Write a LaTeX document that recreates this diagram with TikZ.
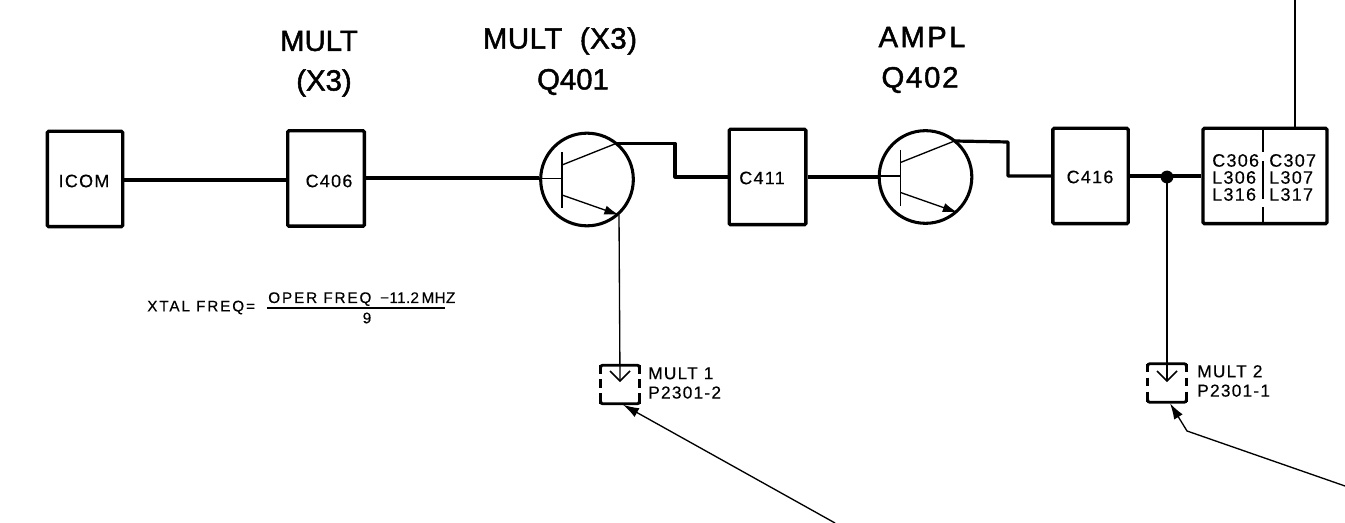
\documentclass[tikz,border=0pt]{standalone}
\usepackage{fontspec}
\setmainfont{Liberation Sans}
\newfontfamily\titlefont[FakeBold=1.6]{Liberation Sans}
\newfontfamily\labelfont[LetterSpace=7,FakeBold=0.3]{Liberation Sans}
\newfontfamily\wideone[LetterSpace=12,FakeBold=0.3]{Liberation Sans}
\newfontfamily\tightone[LetterSpace=2,FakeBold=0.3]{Liberation Sans}
\usetikzlibrary{arrows.meta,calc}
\tikzset{
  x=0.75pt,y=-0.75pt,
  wire/.style={line width=2.4pt,line join=round},
  thinwire/.style={line width=1pt},
  blockbox/.style={draw,line width=2.5pt,rounded corners=1pt,inner sep=0pt,minimum height=71.5pt},
  blocktext/.style={font=\labelfont\fontsize{13.5}{14}\selectfont,inner sep=0pt},
  transcircle/.style={draw,circle,line width=2.3pt,minimum size=69.5pt,inner sep=0pt},
  title/.style={font=\titlefont\fontsize{22}{24}\selectfont,inner sep=0pt},
  coil/.style={font=\labelfont\fontsize{13.5}{12.75}\selectfont,inner sep=0pt,align=left,anchor=west},
  note/.style={font=\labelfont\fontsize{13}{14.5}\selectfont,inner sep=0pt,align=left,anchor=west},
  freq/.style={font=\wideone\fontsize{11.5}{13}\selectfont,inner sep=0pt},
  pointer/.style={line width=1pt,-{Latex[length=12pt,width=7.5pt]}},
  jackbox/.style={minimum width=28.5pt,minimum height=28.5pt,inner sep=0pt},
  jackside/.style={line width=2.1pt,dash pattern=on 6.5pt off 4pt on 6.5pt off 4pt on 8pt},
  jacktop/.style={line width=2.1pt},
  chevron/.style={line width=1.1pt},
}
\newcommand{\transistor}[2]{%
  \coordinate (#1b) at ($(#2)+(-25,-1)$);
  \draw[line width=1.2pt] ($(#2)+(-25,-27)$) -- ($(#2)+(-25,29)$);
  \draw[line width=1pt] ($(#2)+(-25,-14.5)$) -- ($(#2)+(29,-36)$) coordinate (#1c);
  \draw[line width=1pt,-{Latex[length=11pt,width=7pt]}] ($(#2)+(-25,15.5)$) -- ($(#2)+(32,35.5)$) coordinate (#1e);
  \draw[line width=1pt] (#1b) -- (#2.west |- #1b);
}
\newcommand{\jackdraw}[1]{%
  \draw[jacktop,rounded corners=1.5pt] ($(#1.north west)+(0,3)$) -- (#1.north west) -- (#1.north east) -- ($(#1.north east)+(0,3)$);
  \draw[jacktop,rounded corners=1.5pt] ($(#1.south west)+(0,-3)$) -- (#1.south west) -- (#1.south east) -- ($(#1.south east)+(0,-3)$);
  \draw[jackside] (#1.north west) -- (#1.south west);
  \draw[jackside] (#1.north east) -- (#1.south east);
}
\begin{document}
\begin{tikzpicture}
\useasboundingbox (0,0) rectangle (1345,523);
\node[title] (t1) at (319,41) {MULT};
\node[title] (t2) at (324,83) {(X3)};
\node[title] (t3) at (560,41) {\addfontfeature{LetterSpace=2}MULT\ \ (X3)};
\node[title] (t4) at (573,82) {Q401};
\node[title] (t5) at (922,37) {\addfontfeature{LetterSpace=8}AMPL};
\node[title] (t6) at (920,80) {\addfontfeature{LetterSpace=6}Q402};
\node[blockbox,minimum width=56.5pt] (icom) at (85,179) {};
\node[blocktext] (icomt) at (84,181) {ICOM};
\node[blockbox,minimum width=57.5pt] (c406) at (326,178.5) {};
\node[blocktext] (c406t) at (329,181) {C406};
\node[transcircle] (q1) at (587,179.5) {};
\node[blockbox,minimum width=57.5pt] (c411) at (767.5,177) {};
\node[blocktext] (c411t) at (762,178) {C411};
\node[transcircle] (q2) at (925.5,177) {};
\node[blockbox,minimum width=56.5pt] (c416) at (1090.5,176) {};
\node[blocktext] (c416t) at (1090,177) {C416};
\node[draw,line width=2.5pt,rounded corners=1pt,minimum width=93pt,minimum height=71.5pt,inner sep=0pt] (out) at (1265,176) {};
\coordinate (d0) at (1263,128);
\coordinate (d1) at (1263,224);
\draw[line width=1.1pt,dash pattern=on 18pt off 7pt on 28.5pt off 6pt on 12pt] (d0) -- (d1);
\node[coil] (lleft) at (1212,177.5) {C306\\L306\\L316};
\node[coil] (lright) at (1269,177.5) {C307\\L307\\L317};
\transistor{qa}{q1}
\transistor{qb}{q2}
\coordinate (topend) at (1295,0);
\draw[wire] (icom.east |- 0,180) -- (c406.west |- 0,180);
\draw[wire] (c406.east |- 0,178) -- (q1.west |- 0,178);
\draw[wire] (qac) -- ++(59,0) coordinate (k1) -- (k1 |- c411.west) -- (c411.west);
\draw[wire] (c411.east) -- (q2.west);
\draw[wire] (qbc) -- (1008,142) coordinate (k2) -- (k2 |- c416.east) -- (c416.west);
\draw[wire] (c416.east) -- (out.west);
\draw[line width=1.3pt] (out.north -| topend) -- (topend);
\coordinate (dot) at (1167,177);
\fill (dot) circle (4.8pt);
\node[jackbox] (j1) at (620,384.5) {};
\node[jackbox] (j2) at (1167,383) {};
\jackdraw{j1}
\jackdraw{j2}
\draw[thinwire] (qae) -- (j1.center |- 0,381);
\draw[thinwire] (dot) -- (j2.center |- 0,381);
\draw[chevron] ($(j1.center)+(-10,-13.5)$) -- ++(10,10) -- ++(10,-10);
\draw[chevron] ($(j2.center)+(-10,-12)$) -- ++(10,10) -- ++(10,-10);
\node[note] (n1) at (648,383) {MULT 1\\P2301-2};
\node[note] (n2) at (1197,381) {MULT 2\\P2301-1};
\coordinate (p1) at (835,523);
\coordinate (p2) at (1345,486);
\coordinate (p2k) at (1187,431);
\draw[pointer] (p1) -- ($(j1.south)+(3,1)$);
\draw[pointer] (p2) -- (p2k) -- ($(j2.south)+(3,1)$);
\node[freq,anchor=west] (xf) at (147,307.5) {XTAL FREQ=};
\node[freq,anchor=base west] (num) at (268,303) {OPER FREQ {\tightone\,−11.2\,MHZ}};
\node[freq,anchor=center] (den) at (367,318) {9};
\draw[line width=1.1pt] (267,308) -- (445,308);
\end{tikzpicture}
\end{document}
